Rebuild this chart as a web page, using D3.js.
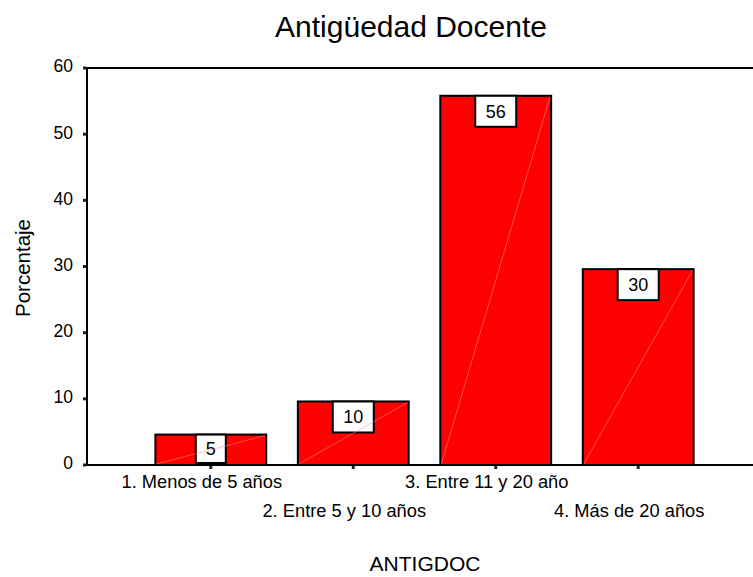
<!DOCTYPE html>
<html>
<head>
<meta charset="utf-8">
<script src="https://cdn.jsdelivr.net/npm/d3@7"></script>
<style>
  html, body { margin: 0; padding: 0; background: #fff; }
  svg { display: block; }
  text { font-family: "Liberation Sans", Arial, sans-serif; fill: #000; }
</style>
</head>
<body>
<svg id="chart" width="753" height="577"></svg>
<script>
const categories = ["1. Menos de 5 años", "2. Entre 5 y 10 años", "3. Entre 11 y 20 año", "4. Más de 20 años"];
const values = [4.6, 9.6, 55.8, 29.6];
const yTicks = [0, 10, 20, 30, 40, 50, 60];
const title = "Antigüedad Docente";
const xTitle = "ANTIGDOC";
const yTitle = "Porcentaje";

const svg = d3.select("#chart");
const pL = 87, pR = 762, pT = 68, pB = 465;

const x = d3.scaleBand().domain(categories).range([pL, pR])
  .paddingInner(0.222).paddingOuter(0.48);
const y = d3.scaleLinear().domain([0, 60]).range([pB, pT]);

// title
svg.append("text").attr("x", 411).attr("y", 37)
  .attr("text-anchor", "middle").style("font-size", "30px").text(title);

// frame top line
svg.append("line").attr("x1", pL).attr("x2", pR).attr("y1", pT).attr("y2", pT)
  .attr("stroke", "#000").attr("stroke-width", 2);

// bars
const g = svg.append("g");
const bars = g.selectAll("g.bar").data(categories.map((c, i) => ({c, v: values[i]})))
  .join("g").attr("class", "bar");
bars.append("rect")
  .attr("x", d => x(d.c)).attr("y", d => y(d.v))
  .attr("width", x.bandwidth()).attr("height", d => y(0) - y(d.v))
  .attr("fill", "#ff0000").attr("stroke", "#000").attr("stroke-width", 2);

// value label boxes
const fmt = d3.format(".0f");
bars.each(function(d) {
  const sel = d3.select(this);
  const label = fmt(d.v);
  const cx = x(d.c) + x.bandwidth() / 2;
  const w = label.length === 1 ? 30 : 41;
  const h = Math.min(31, y(0) - y(d.v) - 2);
  sel.append("rect").attr("x", cx - w / 2).attr("y", y(d.v))
    .attr("width", w).attr("height", h)
    .attr("fill", "#fff").attr("stroke", "#000").attr("stroke-width", 2);
  sel.append("text").attr("x", cx).attr("y", y(d.v) + h / 2 + 6.5)
    .attr("text-anchor", "middle").style("font-size", "18px").text(label);
  // faint diagonal artifact
  sel.append("line")
    .attr("x1", x(d.c) + 1).attr("y1", y(0) - 1)
    .attr("x2", x(d.c) + x.bandwidth() - 1).attr("y2", y(d.v) + 1)
    .attr("stroke", "rgba(255,150,150,0.75)").attr("stroke-width", 0.7);
});

// y axis
const yAxis = d3.axisLeft(y).tickValues(yTicks).tickSize(0).tickPadding(14);
const ya = svg.append("g").attr("transform", `translate(${pL},0)`).call(yAxis);
ya.select(".domain").remove();
ya.selectAll("text").style("font-size", "17.5px").attr("font-family", null)
  .attr("dy", "0.22em");
svg.append("g").selectAll("rect").data(yTicks).join("rect")
  .attr("x", pL - 4).attr("y", d => y(d) - 1.5).attr("width", 3).attr("height", 3)
  .attr("fill", "#222");
svg.append("line").attr("x1", pL).attr("x2", pL).attr("y1", pT - 1).attr("y2", pB + 1)
  .attr("stroke", "#000").attr("stroke-width", 2);

// x axis
svg.append("line").attr("x1", pL).attr("x2", pR).attr("y1", pB).attr("y2", pB)
  .attr("stroke", "#000").attr("stroke-width", 2);
const xAxis = d3.axisBottom(x).tickSize(0).tickPadding(0);
const xa = svg.append("g").attr("transform", `translate(0,${pB})`).call(xAxis);
xa.select(".domain").remove();
xa.selectAll("text").attr("font-family", null).style("font-size", "18.3px")
  .attr("dy", null)
  .attr("x", -9)
  .attr("y", (d, i) => i % 2 === 0 ? 23 : 52);
svg.append("g").selectAll("rect").data(categories).join("rect")
  .attr("x", d => x(d) + x.bandwidth() / 2 - 1.5).attr("y", pB + 1)
  .attr("width", 3).attr("height", 3).attr("fill", "#222");

// axis titles
svg.append("text").attr("x", 425).attr("y", 571)
  .attr("text-anchor", "middle").style("font-size", "21px").text(xTitle);
svg.append("text").attr("transform", "translate(30,268) rotate(-90)")
  .attr("text-anchor", "middle").style("font-size", "20.5px").text(yTitle);
</script>
</body>
</html>
